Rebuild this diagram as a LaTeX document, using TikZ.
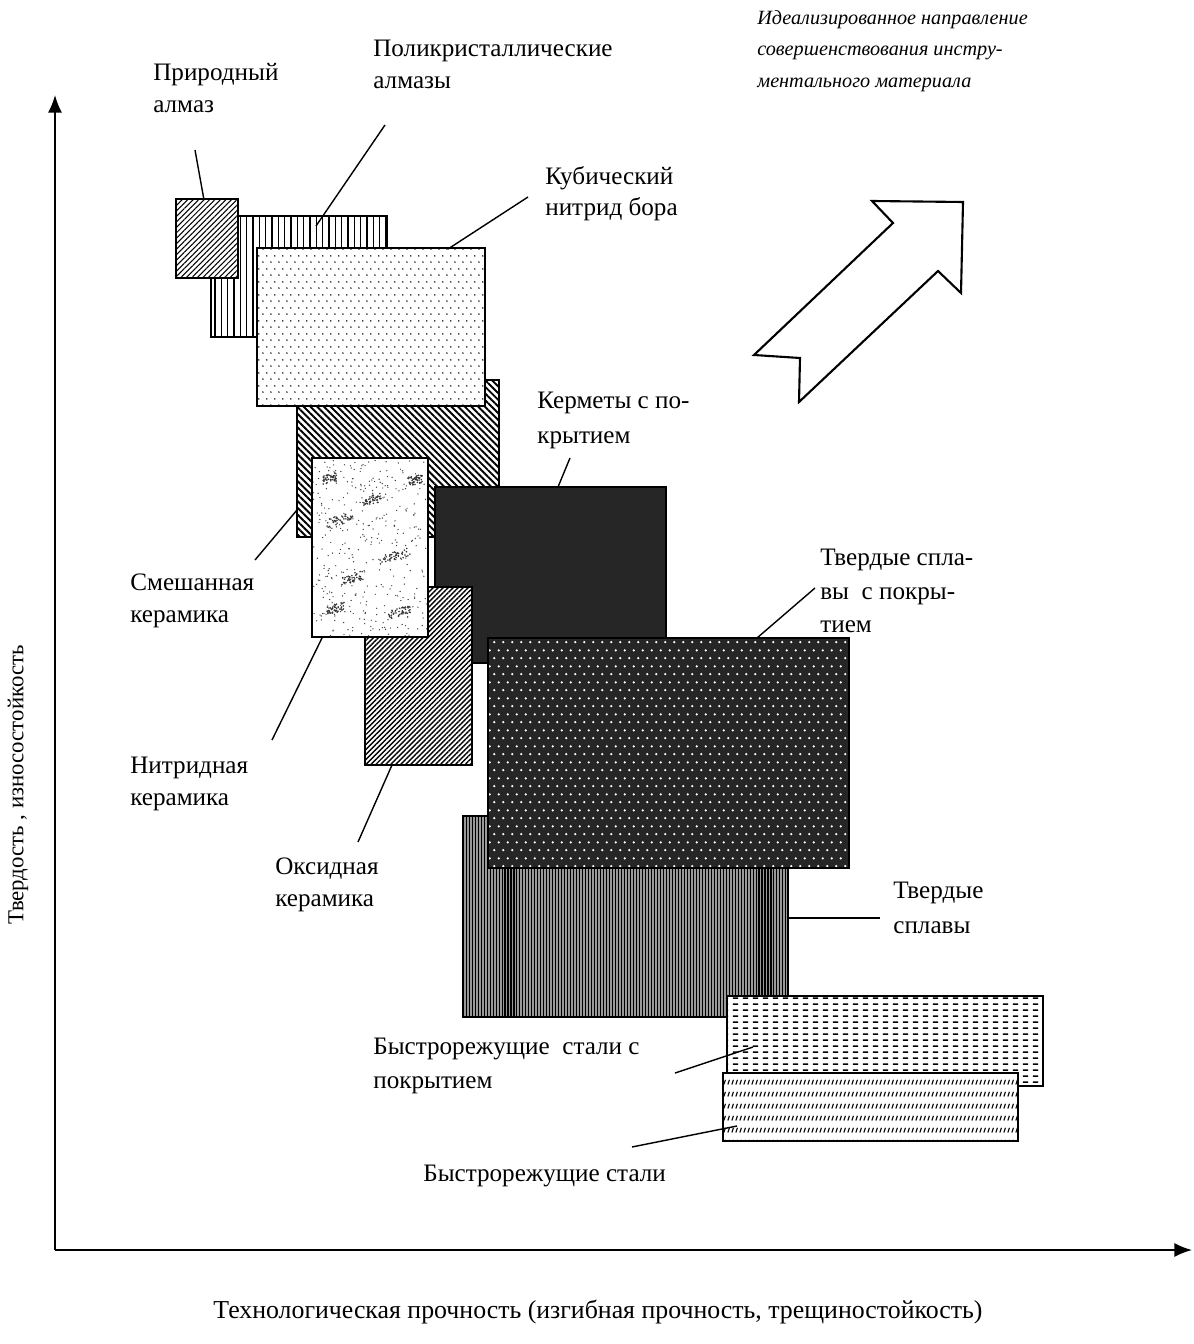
\documentclass[tikz,border=0pt]{standalone}
\usepackage{fontspec}
\setmainfont{Liberation Serif}
\usetikzlibrary{patterns,patterns.meta,arrows.meta}

\pgfdeclarepatternformonly{knbdots}{\pgfqpoint{0pt}{0pt}}{\pgfqpoint{4.5pt}{7.4pt}}{\pgfqpoint{4.5pt}{7.4pt}}{%
  \pgfpathcircle{\pgfqpoint{1.1pt}{1.8pt}}{0.5pt}%
  \pgfpathcircle{\pgfqpoint{3.35pt}{5.5pt}}{0.5pt}%
  \pgfusepath{fill}}
\pgfdeclarepatternformonly{whitedots}{\pgfqpoint{0pt}{0pt}}{\pgfqpoint{5.1pt}{9pt}}{\pgfqpoint{5.1pt}{9pt}}{%
  \pgfpathcircle{\pgfqpoint{1.3pt}{2.2pt}}{0.7pt}%
  \pgfpathcircle{\pgfqpoint{3.85pt}{6.7pt}}{0.7pt}%
  \pgfusepath{fill}}
\pgfdeclarepatternformonly{hdashes}{\pgfqpoint{0pt}{0pt}}{\pgfqpoint{5.7pt}{3.6pt}}{\pgfqpoint{5.7pt}{3.6pt}}{%
  \pgfsetlinewidth{0.95pt}%
  \pgfpathmoveto{\pgfqpoint{1.1pt}{1.8pt}}\pgfpathlineto{\pgfqpoint{4.5pt}{1.8pt}}%
  \pgfusepath{stroke}}
\pgfdeclarepatternformonly{slashes}{\pgfqpoint{0pt}{0pt}}{\pgfqpoint{2.3pt}{7pt}}{\pgfqpoint{2.3pt}{7pt}}{%
  \pgfsetlinewidth{0.75pt}%
  \pgfpathmoveto{\pgfqpoint{0.6pt}{2.1pt}}\pgfpathlineto{\pgfqpoint{1.7pt}{4.9pt}}%
  \pgfusepath{stroke}}

\tikzstyle{matbox} = [draw=black, line width=1pt, preaction={fill=white}]
\tikzstyle{darkbox} = [draw=black, line width=1pt, preaction={fill=black!85}]
\tikzstyle{greybox} = [draw=black, line width=1pt, preaction={fill=black!40}]
\tikzstyle{txt} = [anchor=north west, inner sep=0pt, align=left, font=\fontsize{14.3}{18}\selectfont]
\tikzstyle{leader} = [line width=0.8pt]
\tikzstyle{axis} = [line width=1pt, -{Latex[length=10pt,width=8pt]}]

\begin{document}
\begin{tikzpicture}[x=0.02cm, y=-0.02cm]
	\useasboundingbox (0,0) rectangle (1193,1344);
	% Axes
	\coordinate (Origin) at (55,1250);
	\coordinate (YTop) at (55,95);
	\coordinate (XEnd) at (1192,1250);
	\draw [axis] (Origin) -- (YTop);
	\draw [axis] (Origin) -- (XEnd);
	\node [rotate=90, inner sep=0pt, font=\fontsize{13}{15}\selectfont] (YLabel) at (18,785) {Твердость , износостойкость};
	\node [inner sep=0pt, font=\fontsize{14.7}{16}\selectfont] (XLabel) at (598,1312) {Технологическая прочность (изгибная прочность, трещиностойкость)};
	% Material fields
	\draw [matbox, pattern={Lines[angle=90,distance=3.6pt,line width=0.75pt]}] (211,216) rectangle (387,337);
	\draw [matbox, pattern={Lines[angle=45,distance=2.2pt,line width=0.6pt]}] (176,199) rectangle (238,278);
	\draw [matbox, pattern={Lines[angle=-45,distance=2.7pt,line width=1.1pt]}] (297,380) rectangle (499,537);
	\draw [matbox, pattern=knbdots] (257,248) rectangle (485,406);
	\draw [darkbox] (435,487) rectangle (666,663);
	\draw [matbox, pattern={Lines[angle=45,distance=2pt,line width=0.8pt]}] (365,587) rectangle (472,765);
	\draw [matbox] (312,458) rectangle (428,637);
	\begin{scope}
		\clip (313,459) rectangle (427,636);
		\pgfmathsetseed{7}
		\foreach \k in {1,...,380} {
			\pgfmathsetmacro{\mx}{313+114*rnd}
			\pgfmathsetmacro{\my}{459+177*rnd}
			\fill [black!75] (\mx,\my) circle (0.4pt);
		}
		\foreach \bx/\by/\ba in {340/520/26, 372/500/18, 395/556/30, 352/578/22, 400/612/24, 330/478/14, 415/480/14, 336/608/18}
			\foreach \j in {1,...,45} {
				\pgfmathsetmacro{\mx}{\bx+\ba*(rnd-0.5)}
				\pgfmathsetmacro{\my}{\by+9*(rnd-0.5)-0.25*(\mx-\bx)}
				\fill [black!80] (\mx,\my) circle (0.5pt);
			}
	\end{scope}
	\draw [greybox, pattern={Lines[angle=90,distance=1.7008pt,line width=0.6pt]}] (463,816) rectangle (788,1017);
	\draw [darkbox, pattern=whitedots, pattern color=white] (488,638) rectangle (849,868);
	\draw [matbox, pattern=hdashes] (727,996) rectangle (1043,1086);
	\draw [matbox, pattern=slashes] (723,1073) rectangle (1018,1141);
	% Direction arrow
	\draw [line width=1.2pt] (872,201) -- (963,202) -- (961,293) -- (938,271) -- (799,402) -- (800,358) -- (754,355) -- (893,223) -- cycle;
	% Place nodes
	\node [txt] (NaturalDiamond) at (153,63) {Природный\\алмаз};
	\node [txt] (PolyDiamond) at (373,40) {Поликристаллические\\алмазы};
	\node [txt] (BoronNitride) at (545,166) {Кубический\\нитрид бора};
	\node [txt, font=\fontsize{14.3}{20}\selectfont] (CoatedCermet) at (537,392) {Керметы с по-\\крытием};
	\node [txt] (MixedCeramic) at (130,574) {Смешанная\\керамика};
	\node [txt] (NitrideCeramic) at (130,757) {Нитридная\\керамика};
	\node [txt] (OxideCeramic) at (275,858) {Оксидная\\керамика};
	\node [txt, font=\fontsize{14.3}{19}\selectfont] (CoatedHardAlloy) at (820,549) {Твердые спла-\\вы\ \ с покры-\\тием};
	\node [txt, font=\fontsize{14.3}{20}\selectfont] (HardAlloy) at (893,882) {Твердые\\сплавы};
	\node [txt, font=\fontsize{14.3}{19}\selectfont] (CoatedHSS) at (373,1038) {Быстрорежущие\ \ стали с\\покрытием};
	\node [txt] (HSS) at (423,1165) {Быстрорежущие стали};
	\node [txt, font=\fontsize{11.5}{18}\itshape] (Direction) at (757,10) {Идеализированное направление\\совершенствования инстру-\\ментального материала};
	% Leader ends
	\coordinate (NaturalDiamondStart) at (195,150);
	\coordinate (NaturalDiamondEnd) at (204,200);
	\coordinate (PolyDiamondStart) at (385,125);
	\coordinate (PolyDiamondEnd) at (316,226);
	\coordinate (BoronNitrideStart) at (528,197);
	\coordinate (BoronNitrideEnd) at (448,249);
	\coordinate (CoatedCermetStart) at (570,458);
	\coordinate (CoatedCermetEnd) at (558,487);
	\coordinate (MixedCeramicStart) at (255,560);
	\coordinate (MixedCeramicEnd) at (297,510);
	\coordinate (NitrideCeramicStart) at (272,740);
	\coordinate (NitrideCeramicEnd) at (322,638);
	\coordinate (OxideCeramicStart) at (358,842);
	\coordinate (OxideCeramicEnd) at (392,765);
	\coordinate (CoatedHardAlloyStart) at (815,588);
	\coordinate (CoatedHardAlloyEnd) at (757,638);
	\coordinate (HardAlloyStart) at (880,918);
	\coordinate (HardAlloyEnd) at (788,918);
	\coordinate (CoatedHSSStart) at (675,1073);
	\coordinate (CoatedHSSEnd) at (753,1047);
	\coordinate (HSSStart) at (632,1147);
	\coordinate (HSSEnd) at (737,1126);
	% Draw edges
	\draw [leader] (NaturalDiamondStart) -- (NaturalDiamondEnd);
	\draw [leader] (PolyDiamondStart) -- (PolyDiamondEnd);
	\draw [leader] (BoronNitrideStart) -- (BoronNitrideEnd);
	\draw [leader] (CoatedCermetStart) -- (CoatedCermetEnd);
	\draw [leader] (MixedCeramicStart) -- (MixedCeramicEnd);
	\draw [leader] (NitrideCeramicStart) -- (NitrideCeramicEnd);
	\draw [leader] (OxideCeramicStart) -- (OxideCeramicEnd);
	\draw [leader] (CoatedHardAlloyStart) -- (CoatedHardAlloyEnd);
	\draw [leader] (HardAlloyStart) -- (HardAlloyEnd);
	\draw [leader] (CoatedHSSStart) -- (CoatedHSSEnd);
	\draw [leader] (HSSStart) -- (HSSEnd);
\end{tikzpicture}
\end{document}
